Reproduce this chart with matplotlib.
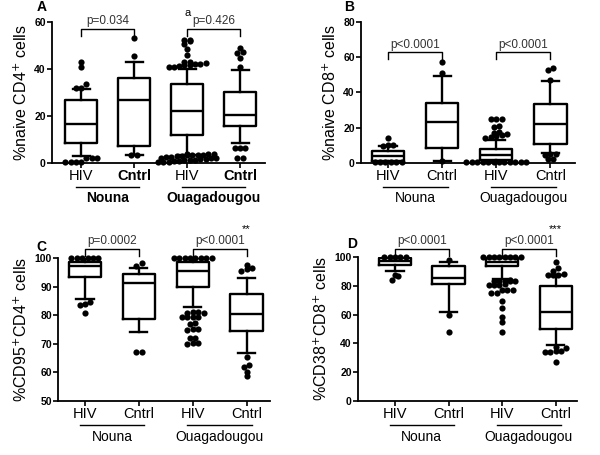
import numpy as np
import matplotlib
matplotlib.use("Agg")
import matplotlib.pyplot as plt

plt.rcParams['font.family'] = ['Liberation Sans', 'DejaVu Sans']

groups = ["HIV", "Cntrl", "HIV", "Cntrl"]
sites = ["Nouna", "Ouagadougou"]

# panel A: %naive CD4+
a_med = [16.5, 27.0, 22.0, 20.3]
a_q1 = [8.3, 7.1, 11.7, 15.9]
a_q3 = [27.0, 36.3, 33.5, 30.0]
a_lo = [2.8, 3.3, 3.6, 8.6]
a_hi = [31.6, 43.1, 40.1, 39.4]
a_out = [
    [43, 41, 33.5, 32, 32, 2.2, 2.2, 2.0, 0.6, 0.6, 0.6, 0.6],
    [53, 45.5, 3.3, 3.3],
    [52.5, 52.5, 51.8, 50.5, 48.5, 46, 43, 42.8, 42.5, 42.3, 42, 41.8, 41.5, 41.2, 41, 40.8,
     4, 3.9, 3.8, 3.6, 3.5, 3.3, 3.2, 3.0, 2.8, 2.6, 2.4, 2.2, 2.1, 2.0, 1.8, 1.6, 1.4,
     1.2, 1.1, 1.0, 0.8, 0.6, 0.5, 0.4],
    [49, 47.3, 46.8, 44.8, 41.0, 6.4, 6.4, 6.4, 2.1, 2.1],
]

# panel B: %naive CD8+
b_med = [3.8, 23.2, 4.7, 22.0]
b_q1 = [1.3, 8.3, 1.9, 10.9]
b_q3 = [6.6, 33.9, 8.1, 33.5]
b_lo = [0.4, 1.3, 0.4, 5.6]
b_hi = [9.4, 49.3, 13.2, 46.5]
b_out = [
    [14, 10, 10, 9.8, 0.3, 0.3, 0.3, 0.3, 0.3, 0.3],
    [57.5, 50.8, 1.3],
    [25, 25, 25, 20.8, 20.5, 17.8, 17, 16.2, 15.8, 15.5, 14.5, 14,
     0.3, 0.3, 0.3, 0.3, 0.3, 0.3, 0.3, 0.3, 0.3, 0.3, 0.3, 0.3],
    [53.8, 52.8, 47.2, 5.3, 5.0, 4.8, 2.4, 2.4],
]

# panel C: %CD95+CD4+
c_med = [97.1, 91.1, 95.5, 80.5]
c_q1 = [93.2, 78.8, 90.0, 74.6]
c_q3 = [98.7, 94.4, 98.5, 87.5]
c_lo = [85.5, 74.1, 82.8, 66.7]
c_hi = [99.9, 96.5, 99.9, 93.0]
c_out = [
    [99.9, 99.9, 99.9, 99.9, 99.9, 99.9, 84.7, 84.0, 83.7, 80.9],
    [98.1, 97.1, 67, 67],
    [99.9, 99.9, 99.9, 99.9, 99.9, 99.9, 99.9, 99.9,
     81.2, 81.0, 80.8, 80.6, 79.5, 79.4, 79.3, 79.2, 77.1, 77.0, 75.1, 75.0, 74.9,
     72.1, 72.0, 70.3, 70.2, 70.1],
    [97.5, 96.4, 96.2, 95.5, 65.5, 62.6, 61.8, 60.2, 58.7],
]

# panel D: %CD38+CD8+
d_med = [97.0, 85.3, 96.5, 61.6]
d_q1 = [94.2, 81.2, 93.5, 49.8]
d_q3 = [99.3, 93.5, 99.3, 80.0]
d_lo = [90.5, 61.6, 84.7, 38.8]
d_hi = [99.8, 96.5, 99.8, 87.7]
d_out = [
    [99.8, 99.8, 99.8, 99.8, 99.8, 87.7, 86.5, 84.2],
    [98.1, 59.8, 48.1],
    [99.8, 99.8, 99.8, 99.8, 99.8, 99.8, 99.8, 99.8,
     83.8, 83.6, 83.5, 83.4, 83.2, 83.0, 80.9, 80.7, 80.5, 80.3, 77.2, 77.0, 76.8,
     74.9, 74.7, 69.1, 64.4, 58.6, 54.7, 47.7],
    [96.3, 92.3, 90.5, 88.0, 87.8, 87.5, 87.2, 37.2, 37.0, 34.7, 34.5, 34.3, 34.2, 27.2],
]


def swarm(vals, tol, dx=0.1):
    vals = np.sort(np.asarray(vals, float))
    xs = []
    i = 0
    while i < len(vals):
        j = i
        while j < len(vals) and vals[j] - vals[i] < tol:
            j += 1
        n = j - i
        xs += list((np.arange(n) - (n - 1) / 2) * dx)
        i = j
    return np.array(xs), vals


def panel(rect, letter, lpos, ylabel, ylim, yticks, xlim, med, q1, q3, lo, hi, out,
          brackets, stars=None, bold_lab=False):
    ax = fig.add_axes(rect)
    pos = np.arange(4)
    stats = []
    for k in range(4):
        stats.append(dict(med=med[k], q1=q1[k], q3=q3[k], whislo=lo[k],
                          whishi=hi[k], fliers=[]))
    lw = 1.7
    ax.bxp(stats, positions=pos, widths=0.6, showfliers=False, capwidths=0.32,
           boxprops=dict(color='black', linewidth=lw),
           whiskerprops=dict(color='black', linewidth=lw),
           capprops=dict(color='black', linewidth=lw),
           medianprops=dict(color='black', linewidth=lw))
    tol = (ylim[1] - ylim[0]) * 0.03
    for k in range(4):
        xo, v = swarm(out[k], tol)
        ax.scatter(pos[k] + xo, v, s=20, color='black', zorder=3, clip_on=False,
                   linewidths=0)
    ax.set_xlim(*xlim)
    ax.set_ylim(*ylim)
    ax.set_yticks(yticks)
    for s in ['top', 'right']:
        ax.spines[s].set_visible(False)
    for s in ['left', 'bottom']:
        ax.spines[s].set_linewidth(1.3)
    ax.tick_params(axis='y', labelsize=7.5, width=1.2, length=3.5, pad=1)
    for t in ax.get_yticklabels():
        t.set_fontweight('bold')
    ax.set_xticks(pos)
    ax.set_xticklabels(groups, fontsize=10.5)
    ax.tick_params(axis='x', width=1.2, length=3.5, pad=1)
    if bold_lab:
        ax.get_xticklabels()[1].set_fontweight('bold')
        ax.get_xticklabels()[3].set_fontweight('bold')
    ax.set_ylabel(ylabel, fontsize=11.5, labelpad=3)
    tr = ax.get_xaxis_transform()
    for g, (i, j) in enumerate([(0, 1), (2, 3)]):
        ax.plot([i - 0.1, j + 0.1], [-0.17, -0.17], transform=tr, color='black',
                lw=1.0, clip_on=False)
        ax.text((i + j) / 2, -0.2, sites[g], transform=tr, ha='center', va='top',
                fontsize=10, fontweight='bold' if bold_lab else 'normal')
    rng = ylim[1] - ylim[0]
    for i, j, y, txt in brackets:
        ax.plot([i, i, j, j], [y - 0.05 * rng, y, y, y - 0.05 * rng], color='black',
                lw=1.0, clip_on=False)
        ax.text((i + j) / 2, y + 0.01 * rng, txt, ha='center', va='bottom',
                fontsize=8.5, color='#333333')
    if stars:
        for x, y, txt in stars:
            ax.text(x, y, txt, ha='center', va='bottom', fontsize=8)
    ax.text(lpos[0], lpos[1], letter, transform=ax.transAxes, fontsize=10,
            fontweight='bold', va='bottom')
    return ax


fig = plt.figure(figsize=(6, 4.55), dpi=100)

panel([0.0867, 0.6418, 0.355, 0.3099], "A", (-0.07, 1.055), "%naive CD4$^{+}$ cells",
      (0, 60), [0, 20, 40, 60], (-0.55, 3.47), a_med, a_q1, a_q3, a_lo, a_hi, a_out,
      [(0, 1, 57.2, "p=0.034"), (2, 3, 57.2, "p=0.426")],
      stars=[(2, 61.8, "a")], bold_lab=True)
panel([0.6017, 0.6418, 0.357, 0.3099], "B", (-0.08, 1.06), "%naive CD8$^{+}$ cells",
      (0, 80), [0, 20, 40, 60, 80], (-0.5, 3.46), b_med, b_q1, b_q3, b_lo, b_hi, b_out,
      [(0, 1, 63, "p<0.0001"), (2, 3, 63, "p<0.0001")])
panel([0.0967, 0.1187, 0.353, 0.3143], "C", (-0.1, 1.03), "%CD95$^{+}$CD4$^{+}$ cells",
      (50, 100), [50, 60, 70, 80, 90, 100], (-0.5, 3.43), c_med, c_q1, c_q3, c_lo, c_hi,
      c_out, [(0, 1, 103.2, "p=0.0002"), (2, 3, 103.2, "p<0.0001")],
      stars=[(3, 108.5, "**")])
panel([0.5967, 0.1187, 0.365, 0.3165], "D", (-0.05, 1.04), "%CD38$^{+}$CD8$^{+}$ cells",
      (0, 100), [0, 20, 40, 60, 80, 100], (-0.69, 3.4), d_med, d_q1, d_q3, d_lo, d_hi,
      d_out, [(0, 1, 105.8, "p<0.0001"), (2, 3, 105.8, "p<0.0001")],
      stars=[(3, 116, "***")])

fig.savefig("out.png", dpi=100)
